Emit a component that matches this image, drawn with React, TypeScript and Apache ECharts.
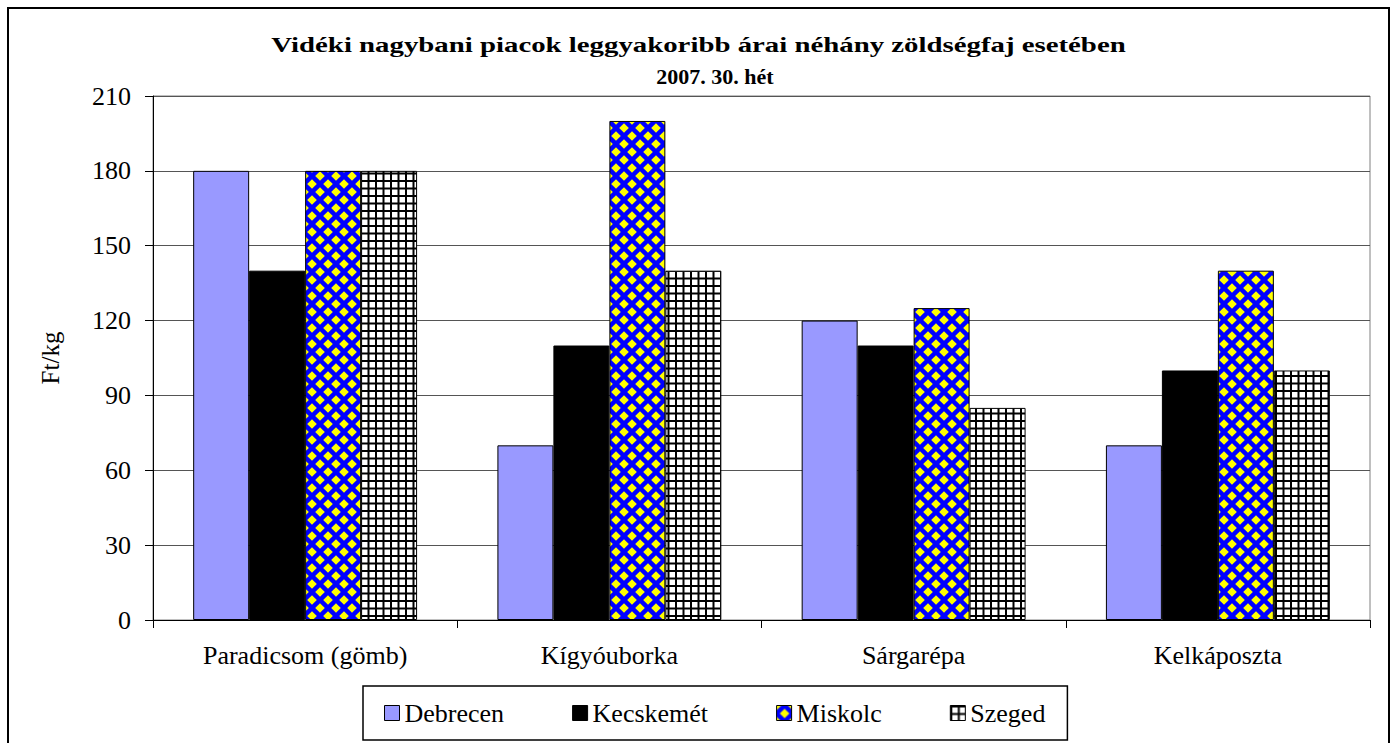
import React, { useEffect, useRef } from "react";
import * as echarts from "echarts";

const categories = ["Paradicsom (gömb)", "Kígyóuborka", "Sárgarépa", "Kelkáposzta"];
const seriesNames = ["Debrecen", "Kecskemét", "Miskolc", "Szeged"];
const debrecen = [180, 70, 120, 70];
const kecskemet = [140, 110, 110, 100];
const miskolc = [180, 200, 125, 140];
const szeged = [180, 140, 85, 100];
const yMin = 0;
const yMax = 210;
const yStep = 30;
const titleLine1 = "Vidéki nagybani piacok leggyakoribb árai néhány zöldségfaj esetében";
const titleLine2 = "2007. 30. hét";
const yAxisName = "Ft/kg";

const FONT = "'Liberation Serif', 'Times New Roman', serif";

function diamondPattern() {
  const s = 16;
  const c = document.createElement("canvas");
  c.width = s;
  c.height = s;
  const ctx = c.getContext("2d")!;
  ctx.fillStyle = "#0000FF";
  ctx.fillRect(0, 0, s, s);
  ctx.fillStyle = "#FFFF00";
  const r = 4.8;
  const centers = [
    [s / 2, s / 2],
    [0, 0],
    [s, 0],
    [0, s],
    [s, s],
  ];
  for (const [cx, cy] of centers) {
    ctx.beginPath();
    ctx.moveTo(cx, cy - r);
    ctx.lineTo(cx + r, cy);
    ctx.lineTo(cx, cy + r);
    ctx.lineTo(cx - r, cy);
    ctx.closePath();
    ctx.fill();
  }
  return { image: c, repeat: "repeat", imageWidth: s, imageHeight: s };
}

function gridPattern() {
  const s = 15;
  const c = document.createElement("canvas");
  c.width = s;
  c.height = s;
  const ctx = c.getContext("2d")!;
  ctx.fillStyle = "#FFFFFF";
  ctx.fillRect(0, 0, s, s);
  ctx.fillStyle = "#000000";
  ctx.fillRect(0, 0, 2, s);
  ctx.fillRect(7.5, 0, 2, s);
  ctx.fillRect(0, 0, s, 2);
  ctx.fillRect(0, 7.5, s, 2);
  return { image: c, repeat: "repeat", imageWidth: s, imageHeight: s };
}

export default function App() {
  const ref = useRef<HTMLDivElement>(null);

  useEffect(() => {
    document.body.style.margin = "0";
    document.body.style.overflow = "hidden";
    const chart = echarts.init(ref.current!, null, { renderer: "svg" });

    const mc = document.createElement("canvas").getContext("2d")!;
    mc.font = `bold 22px ${FONT}`;
    const w1 = mc.measureText(titleLine1).width || 653;
    const scale1 = 855 / w1;

    const values = [debrecen, kecskemet, miskolc, szeged];
    const fills: any[] = ["#9999FF", "#000000", diamondPattern(), gridPattern()];

    const option: any = {
      animation: false,
      backgroundColor: "#FFFFFF",
      graphic: [
        {
          type: "rect",
          shape: { x: 8, y: 8, width: 1381, height: 760 },
          style: { fill: "none", stroke: "#000", lineWidth: 2 },
          silent: true,
        },
        {
          type: "text",
          x: 698.5,
          y: 45,
          scaleX: scale1,
          style: {
            text: titleLine1,
            font: `bold 22px ${FONT}`,
            fill: "#000",
            align: "center",
            verticalAlign: "middle",
            textAlign: "center",
            textVerticalAlign: "middle",
          },
        },
        {
          type: "text",
          x: 715,
          y: 76,
          style: {
            text: titleLine2,
            font: `bold 22px ${FONT}`,
            fill: "#000",
            align: "center",
            verticalAlign: "middle",
            textAlign: "center",
            textVerticalAlign: "middle",
          },
        },
      ],
      legend: {
        left: 363,
        top: 686,
        padding: [14, 22, 14, 21],
        itemGap: 68,
        itemWidth: 15,
        itemHeight: 15,
        itemStyle: { borderColor: "#000", borderWidth: 1 },
        icon: "rect",
        borderColor: "#000",
        borderWidth: 1.5,
        textStyle: { fontFamily: FONT, fontSize: 26, color: "#000" },
        data: seriesNames,
      },
      grid: { left: 153, right: 27, top: 96, bottom: 123, show: true, borderColor: "#808080", borderWidth: 1 },
      xAxis: {
        type: "category",
        data: categories,
        axisLine: { lineStyle: { color: "#000", width: 1 } },
        axisTick: { show: true, length: 8, lineStyle: { color: "#000" } },
        axisLabel: { fontFamily: FONT, fontSize: 26, color: "#000", margin: 22 },
      },
      yAxis: {
        type: "value",
        min: yMin,
        max: yMax,
        interval: yStep,
        name: yAxisName,
        nameLocation: "middle",
        nameGap: 90,
        nameTextStyle: { fontFamily: FONT, fontSize: 25, color: "#000" },
        axisLine: { show: true, lineStyle: { color: "#000", width: 1 } },
        axisTick: { show: true, length: 8, lineStyle: { color: "#000" } },
        axisLabel: { fontFamily: FONT, fontSize: 26, color: "#000", margin: 22 },
        splitLine: { lineStyle: { color: "#555", width: 1 } },
      },
      series: seriesNames.map((name, i) => ({
        name,
        type: "bar",
        data: values[i],
        barGap: "0%",
        barCategoryGap: "26.4%",
        itemStyle: { color: fills[i], borderColor: "#000", borderWidth: 1 },
      })),
    };
    chart.setOption(option);
    return () => chart.dispose();
  }, []);

  return <div ref={ref} style={{ width: 1397, height: 743 }} />;
}
